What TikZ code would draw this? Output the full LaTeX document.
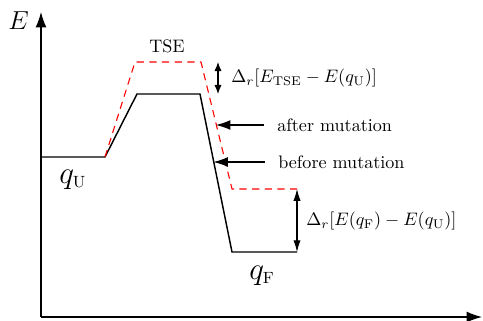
\documentclass[tikz,border=0pt]{standalone}
\usetikzlibrary{arrows.meta}
\begin{document}
\begin{tikzpicture}[x=0.553pt,y=-0.553pt,
  axis/.style={line width=0.6pt,-{Latex[length=8.5pt,width=6pt]}},
  curve/.style={line width=0.8pt,line join=miter},
  mutcurve/.style={red,line width=0.6pt,dash pattern=on 4pt off 3pt},
  pointer/.style={line width=0.6pt,-{Latex[length=8pt,width=5.5pt]}},
  gap/.style={line width=0.6pt,{Latex[length=5pt,width=4pt]}-{Latex[length=5pt,width=4pt]}},
  biggap/.style={line width=0.6pt,{Latex[length=6.5pt,width=4pt]}-{Latex[length=6.5pt,width=4pt]}},
  lbl/.style={inner sep=0pt,anchor=west},
  statelbl/.style={inner sep=0pt,anchor=base west,font=\fontsize{18}{20}\selectfont}]
\useasboundingbox (0,0) rectangle (483,320);
% axes
\coordinate (O) at (41,317);
\coordinate (Ytip) at (41,12);
\coordinate (Xtip) at (482,317);
\draw[axis] (O) -- (Ytip);
\draw[axis] (O) -- (Xtip);
\node[inner sep=0pt,anchor=base west,font=\fontsize{13.5}{15}\selectfont] (E) at (8,29) {$E$};
% energy profile before mutation
\coordinate (u0) at (41,157);
\coordinate (u1) at (105,157);
\coordinate (t1) at (137,94);
\coordinate (t2) at (200,94);
\coordinate (f1) at (232,252);
\coordinate (f2) at (297,252);
\draw[curve] (u0) -- (u1) -- (t1) -- (t2) -- (f1) -- (f2);
% after mutation
\coordinate (r1) at (135,62);
\coordinate (r2) at (201,62);
\coordinate (r3) at (232,189);
\coordinate (r4) at (297,189);
\draw[mutcurve] (u1) -- (r1) -- (r2) -- (r3) -- (r4);
% labels
\node (TSE) at (167,46) {TSE};
\node[statelbl] (qU) at (59,183) {$q_{\scriptscriptstyle\mathrm{U}}$};
\node[statelbl] (qF) at (249,279) {$q_{\scriptscriptstyle\mathrm{F}}$};
% TSE gap
\coordinate (g1) at (218,62);
\coordinate (g2) at (218,94);
\draw[gap] (g1) -- (g2);
\node[lbl] (dTSE) at (231,78) {$\Delta_r[E_{\mathrm{TSE}}-E(q_{\mathrm{U}})]$};
% pointers
\node[lbl] (after) at (277,125) {after mutation};
\node[lbl] (before) at (278,162) {before mutation};
\coordinate (pa) at (216,125);
\coordinate (pb) at (213.5,162);
\draw[pointer] ([xshift=-7pt]after.west) -- (pa);
\draw[pointer] ([xshift=-7pt]before.west) -- (pb);
% F gap
\coordinate (h1) at (297,189);
\coordinate (h2) at (297,252);
\draw[biggap] (h1) -- (h2);
\node[lbl] (dF) at (306,221) {$\Delta_r[E(q_{\mathrm{F}})-E(q_{\mathrm{U}})]$};
\end{tikzpicture}
\end{document}
